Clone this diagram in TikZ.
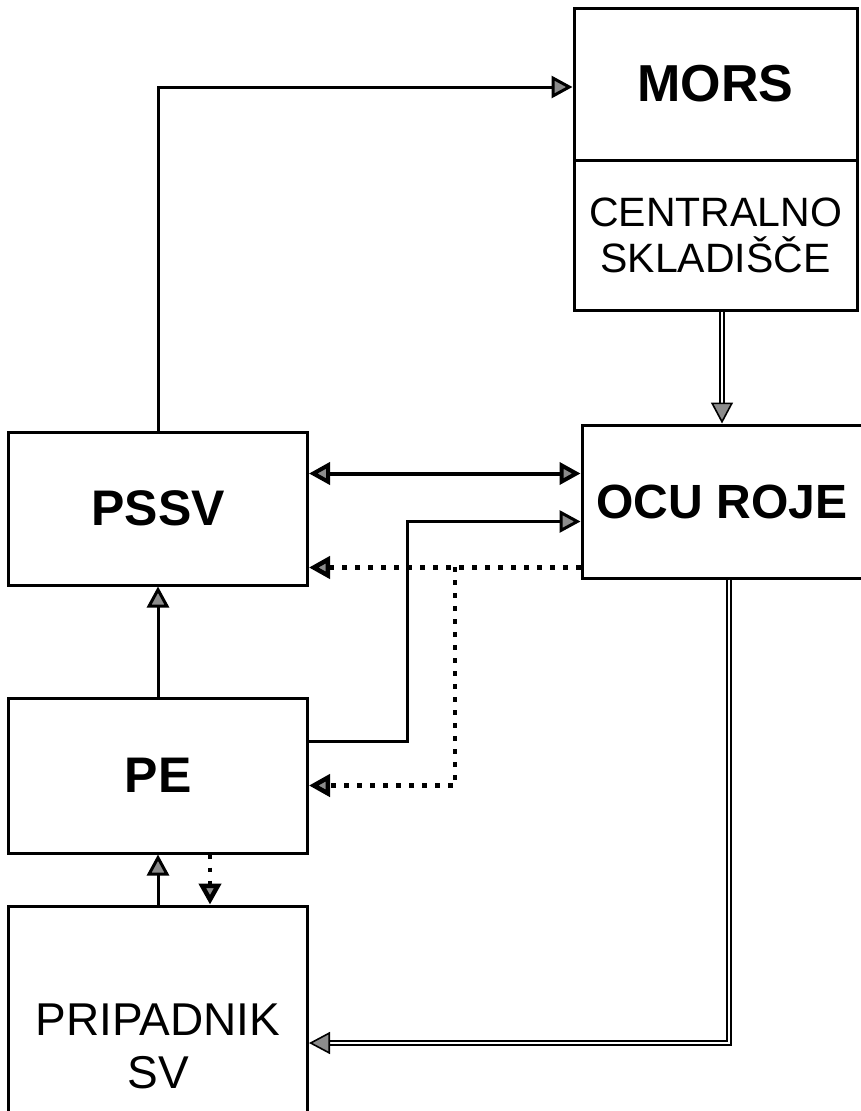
\documentclass[tikz,border=0pt]{standalone}
\usepackage{fontspec}
\setmainfont{Liberation Sans}
\usetikzlibrary{arrows.meta,positioning}
\tikzstyle{unit}=[draw,line width=3pt,inner sep=0pt,minimum width=299pt,minimum height=153pt,font=\bfseries\fontsize{50}{60}\selectfont]
\tikzstyle{tip}=[-{Triangle[length=21pt,width=22pt,fill=black!45]}]
\tikzstyle{bothtips}=[{Triangle[length=21pt,width=22pt,fill=black!45]}-{Triangle[length=21pt,width=22pt,fill=black!45]}]
\tikzstyle{flow}=[tip,line width=3pt]
\tikzstyle{reply}=[tip,line width=4.5pt,dash pattern=on 4.5pt off 8.5pt]
\tikzstyle{supply}=[tip,double,double distance=2.5pt,line width=1.6pt]
\newcommand{\drawlinks}[2][\empty]{
	\foreach \a/\b in {#2}{
		\draw[#1] (\a) -- (\b);
	}
}

\begin{document}
\begin{tikzpicture}[x=1pt,y=-1pt]
\clip (0,0) rectangle (861,1111);
\node [unit,minimum width=283pt,minimum height=152pt,font=\bfseries\fontsize{52}{60}\selectfont] (mors) at (715.5,84) {\raisebox{-5pt}{MORS}};
\node [unit,minimum width=283pt,minimum height=150pt,font=\fontsize{41}{46}\selectfont,align=center,below=-3pt of mors] (sklad) {CENTRALNO\\SKLADIŠČE};
\node [unit,minimum width=280pt,font=\bfseries\fontsize{48}{60}\selectfont] (ocu) at (722,501.5) {OCU ROJE};
\node [unit] (pssv) at (158,508.5) {PSSV};
\node [unit,minimum height=155pt,below=110pt of pssv] (pe) {PE};
\node [unit,minimum height=280pt,font=\fontsize{46}{53}\selectfont,align=center,below=50pt of pe] (prip) {PRIPADNIK\\SV};

\coordinate (split) at (455,567);

% solid
\draw[flow] (pssv.north) |- ([yshift=-3pt]mors.west);
\draw[flow,bothtips,line width=4pt] ([yshift=28pt]ocu.west -| pssv.east) -- ([yshift=28pt]ocu.west);
\draw[flow] ([yshift=34pt]pe.east) -- ++(98,0) |- ([yshift=-20pt]ocu.west);
\drawlinks[flow]{pe.north/pssv.south,prip.north/pe.south}

% dotted
\draw[reply] ([yshift=-66pt]ocu.west) -- ([yshift=-66pt]ocu.west -| pssv.east);
\draw[reply] (split) |- ([yshift=-10pt]pe.east);
\draw[reply] ([xshift=52pt]pe.south) -- ([xshift=52pt]pe.south |- prip.north);

% double
\draw[supply] (sklad.south -| ocu.north) -- (ocu.north);
\draw[supply] ([xshift=7pt]ocu.south) |- ([yshift=3pt]prip.east);
\end{tikzpicture}
\end{document}
